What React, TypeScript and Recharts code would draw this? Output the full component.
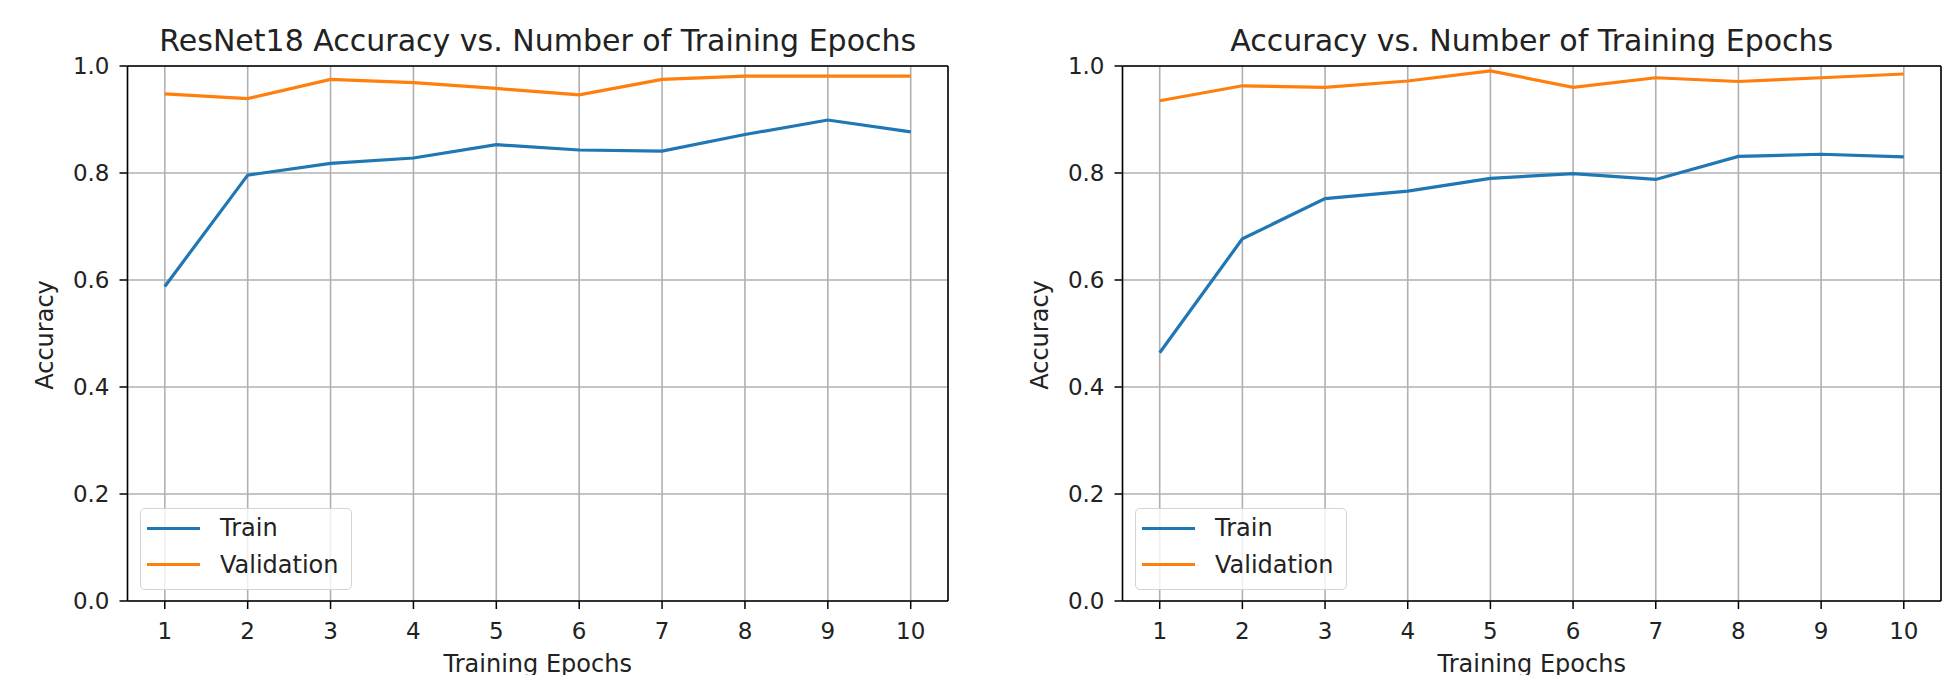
import React from 'react';
import { LineChart, Line, XAxis, YAxis, CartesianGrid, Legend, ReferenceLine } from 'recharts';

const epochs = [1, 2, 3, 4, 5, 6, 7, 8, 9, 10];
const resnetTrain = [0.588, 0.796, 0.818, 0.828, 0.853, 0.843, 0.841, 0.872, 0.899, 0.877];
const resnetVal = [0.948, 0.939, 0.975, 0.969, 0.958, 0.946, 0.975, 0.981, 0.981, 0.981];
const otherTrain = [0.464, 0.677, 0.752, 0.766, 0.790, 0.799, 0.788, 0.831, 0.835, 0.830];
const otherVal = [0.935, 0.963, 0.960, 0.972, 0.991, 0.960, 0.978, 0.971, 0.978, 0.985];
const yTicks = [0, 0.2, 0.4, 0.6, 0.8, 1.0];
const titles = ['ResNet18 Accuracy vs. Number of Training Epochs', 'Accuracy vs. Number of Training Epochs'];
const xLabel = 'Training Epochs';
const yLabel = 'Accuracy';
const seriesNames = ['Train', 'Validation'];

const FONT = '"DejaVu Sans", sans-serif';
const TRAIN_COLOR = '#1f77b4';
const VAL_COLOR = '#ff7f0e';
const X_DOMAIN: [number, number] = [0.55, 10.45];
const Y_DOMAIN: [number, number] = [0, 1];

const buildData = (train: number[], val: number[]) =>
  epochs.map((e, i) => ({ epoch: e, train: train[i], val: val[i] }));

const LegendBox = (props: any) => {
  const payload = (props.payload || []).filter((p: any) => p.type !== 'none');
  return (
    <div
      style={{
        position: 'relative',
        width: 212,
        height: 82,
        boxSizing: 'border-box',
        border: '1.5px solid #d4d4d4',
        borderRadius: 5,
        background: 'rgba(255,255,255,0.8)',
        fontFamily: FONT,
        fontSize: 24,
        color: '#222',
      }}
    >
      {payload.map((p: any, i: number) => (
        <React.Fragment key={p.value}>
          <div
            style={{
              position: 'absolute',
              left: 6,
              top: 17.5 + i * 36.5,
              width: 53,
              height: 3,
              background: p.color,
            }}
          />
          <div
            style={{
              position: 'absolute',
              left: 79,
              top: 2 + i * 36.5,
              lineHeight: '34px',
              whiteSpace: 'nowrap',
            }}
          >
            {p.value}
          </div>
        </React.Fragment>
      ))}
    </div>
  );
};

type PanelProps = {
  left: number;
  yAxisWidth: number;
  rightMargin: number;
  legendLeft: number;
  train: number[];
  val: number[];
};

const Panel = ({ left, yAxisWidth, rightMargin, legendLeft, train, val }: PanelProps) => {
  const data = buildData(train, val);
  const tickStyle = { fontSize: 23, fill: '#222', fontFamily: FONT };
  const spine = { stroke: '#000', strokeWidth: 1.5 };
  return (
    <div style={{ position: 'absolute', left, top: 0 }}>
      <LineChart
        width={980}
        height={675}
        data={data}
        margin={{ top: 66, right: rightMargin, bottom: 0, left: 0 }}
      >
        <CartesianGrid stroke="#b0b0b0" strokeWidth={1.6} />
        <XAxis
          dataKey="epoch"
          type="number"
          domain={X_DOMAIN}
          ticks={epochs}
          height={74}
          tick={tickStyle}
          tickSize={8}
          tickMargin={14}
          tickLine={spine}
          axisLine={spine}
          interval={0}
        />
        <YAxis
          type="number"
          domain={Y_DOMAIN}
          ticks={yTicks}
          width={yAxisWidth}
          tick={tickStyle}
          tickSize={8}
          tickMargin={10}
          tickLine={spine}
          axisLine={spine}
          tickFormatter={(v: number) => v.toFixed(1)}
          interval={0}
        />
        <ReferenceLine y={Y_DOMAIN[1]} stroke="#000" strokeWidth={1.5} />
        <ReferenceLine x={X_DOMAIN[1]} stroke="#000" strokeWidth={1.5} />
        <Line
          type="linear"
          dataKey="train"
          name={seriesNames[0]}
          stroke={TRAIN_COLOR}
          strokeWidth={3.2}
          dot={false}
          isAnimationActive={false}
        />
        <Line
          type="linear"
          dataKey="val"
          name={seriesNames[1]}
          stroke={VAL_COLOR}
          strokeWidth={3.2}
          dot={false}
          isAnimationActive={false}
        />
        <Legend
          layout="vertical"
          align="center"
          verticalAlign="middle"
          content={LegendBox}
          wrapperStyle={{ left: legendLeft, top: 508, width: 212, height: 82 }}
        />
      </LineChart>
    </div>
  );
};

export default function App() {
  const plots = [
    { x0: 127.5, x1: 948 },
    { x0: 1122.5, x1: 1941 },
  ];
  return (
    <div
      style={{
        position: 'absolute',
        left: 0,
        top: 0,
        width: 1960,
        height: 675,
        overflow: 'hidden',
        background: '#fff',
      }}
    >
      <Panel left={0} yAxisWidth={127.5} rightMargin={32} legendLeft={140} train={resnetTrain} val={resnetVal} />
      <Panel left={980} yAxisWidth={142.5} rightMargin={19} legendLeft={155} train={otherTrain} val={otherVal} />
      <svg
        width={1960}
        height={675}
        style={{ position: 'absolute', left: 0, top: 0, pointerEvents: 'none' }}
      >
        {plots.map((p, i) => {
          const cx = (p.x0 + p.x1) / 2;
          return (
            <g key={i} fontFamily={FONT} fill="#222">
              <text x={cx} y={51} textAnchor="middle" fontSize={30}>
                {titles[i]}
              </text>
              <text x={cx} y={671.5} textAnchor="middle" fontSize={24}>
                {xLabel}
              </text>
              <text
                transform={`translate(${p.x0 - 74.5}, 335) rotate(-90)`}
                textAnchor="middle"
                fontSize={24}
              >
                {yLabel}
              </text>
            </g>
          );
        })}
      </svg>
    </div>
  );
}
